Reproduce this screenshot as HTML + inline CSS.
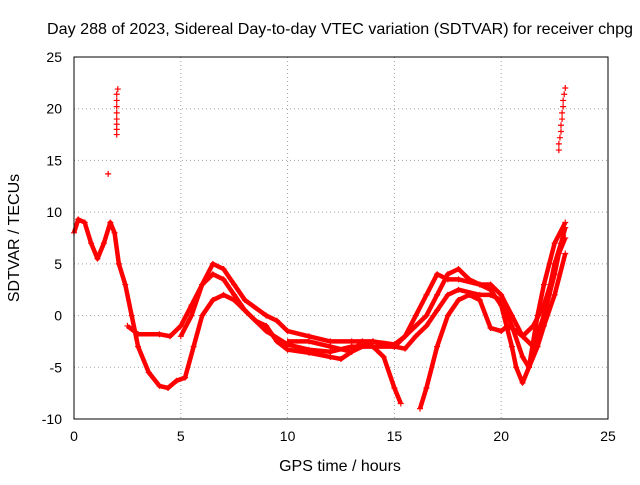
<!DOCTYPE html>
<html><head><meta charset="utf-8"><style>
body{margin:0;background:#fff;}
svg text{font-family:"Liberation Sans",sans-serif;font-size:14px;fill:#000;}
svg text.big{font-size:16px;}
</style></head><body>
<svg id="chart" width="640" height="480">
<text class="big" x="340" y="34" text-anchor="middle" textLength="586" lengthAdjust="spacingAndGlyphs">Day 288 of 2023, Sidereal Day-to-day VTEC variation (SDTVAR) for receiver chpg</text>
<text class="big" x="340" y="471" text-anchor="middle">GPS time / hours</text>
<text class="big" transform="translate(19,238) rotate(-90)" text-anchor="middle">SDTVAR / TECUs</text>
<g id="grid"></g><g id="series"></g>
<rect x="74" y="57" width="534" height="362" fill="none" stroke="#000"/>
</svg>
<script>
const xTicks=[0,5,10,15,20,25];
const yTicks=[-10,-5,0,5,10,15,20,25];
const traceA=[[0,8],[0.2,9.3],[0.5,9],[0.8,7],[1.1,5.5],[1.4,7],[1.7,9],[1.9,8],[2.1,5],[2.4,3],[2.7,0],[3,-3],[3.5,-5.5],[4,-6.8],[4.4,-7],[4.8,-6.3],[5.2,-6],[5.6,-3],[6,0],[6.5,1.5],[7,2],[7.5,1.5],[8,0.5],[8.5,-0.5],[9,-1],[9.5,-2.5],[10,-3.3],[11,-3.6],[12,-4],[12.5,-4.2],[13,-3.5],[13.5,-2.5],[14,-3],[14.5,-4],[15,-7],[15.3,-8.5]];
const traceB=[[2.5,-1],[3,-1.8],[4,-1.8],[4.5,-2],[5,-1],[5.5,1],[6,3],[6.5,4],[7,3.5],[7.5,2],[8,0.5],[9,-1.5],[10,-2.8],[11,-3.3],[12,-3.5],[13,-3],[14,-3],[15,-3],[15.5,-3.2],[16,-2],[16.5,-1],[17,0.5],[17.5,2],[18,2.5],[19,2],[19.5,2],[20,1.5],[20.5,-1],[21,-4],[21.3,-5],[21.7,-3],[22,-1],[22.5,2],[23,6]];
const traceC=[[5,-2],[5.5,0],[6,3],[6.5,5],[7,4.5],[7.5,3],[8,1.5],[9,0],[9.5,-0.5],[10,-1.5],[11,-2],[12,-2.5],[13,-2.5],[14,-2.5],[15,-2.8],[15.5,-2],[16,0],[16.5,2],[17,4],[17.5,3.5],[18,3.5],[19,3],[19.5,2.5],[20,1],[20.5,-3],[20.7,-5],[21,-6.5],[21.3,-5],[21.7,0],[22,3],[22.5,7],[23,9]];
const traceD=[[16.2,-9],[16.5,-7],[17,-3],[17.5,0],[18,1.5],[18.5,2],[19,1.5],[19.5,-1.2],[20,-1.5],[20.3,-1],[20.7,-1.5],[21,-2],[21.5,-1],[22,1],[22.3,3],[22.5,5],[22.8,7],[23,8.5]];
const traceE=[[10,-2.5],[11,-2.5],[12,-3],[13,-3.5],[14,-2.5],[15,-3],[15.5,-2],[16,-1],[16.5,0],[17,2],[17.5,4],[18,4.5],[18.5,3.5],[19,3],[19.5,3],[20,2],[20.5,0],[21,-2],[21.5,-3],[22,0],[22.5,4],[22.7,6],[23,7.5]];
const outliers=[[1.6,13.7],[2,17.5],[2,18],[2,18.5],[2,19],[2,19.6],[2,20.2],[2,20.8],[2,21.4],[2.05,21.9],[22.7,16],[22.7,16.6],[22.75,17.2],[22.8,17.8],[22.8,18.4],[22.85,19],[22.85,19.6],[22.9,20.2],[22.9,20.8],[22.95,21.4],[23,22]];
const sx=v=>74+v*(534/25), sy=v=>419-(v+10)*(362/35);
const NS="http://www.w3.org/2000/svg";
const grid=document.getElementById('grid'), ser=document.getElementById('series'), svg=document.getElementById('chart');
function mk(tag,attrs,parent){const e=document.createElementNS(NS,tag);for(const k in attrs)e.setAttribute(k,attrs[k]);parent.appendChild(e);return e;}
xTicks.forEach(t=>{const x=sx(t);
 const g=mk('line',{x1:x,x2:x,y1:57,y2:419,stroke:'#a0a0a0','stroke-dasharray':'1,3'},grid);
 
 
 const tk=mk('text',{x:x,y:441,'text-anchor':'middle'},svg);tk.textContent=t;
 
 
});
yTicks.forEach(t=>{const y=sy(t);
 const g=mk('line',{x1:74,x2:608,y1:y,y2:y,stroke:'#a0a0a0','stroke-dasharray':'1,3'},grid);
 
 
 const tk=mk('text',{x:62,y:y+5,'text-anchor':'end'},svg);tk.textContent=t;
 
 
});
function plus(p){const x=sx(p[0]),y=sy(p[1]);
 const m=mk('path',{d:`M${x-3},${y}h6M${x},${y-3}v6`,stroke:'#f00','stroke-width':1.2},ser);
 
 }
[traceA,traceB,traceC,traceD,traceE].forEach((tr,i)=>{
 const pl=mk('polyline',{points:tr.map(p=>sx(p[0])+','+sy(p[1])).join(' '),fill:'none',stroke:'#f00','stroke-width':4.5,'stroke-linejoin':'round'},ser);
 
 
 tr.forEach(plus);
});
outliers.forEach(plus);
</script>
</body></html>
